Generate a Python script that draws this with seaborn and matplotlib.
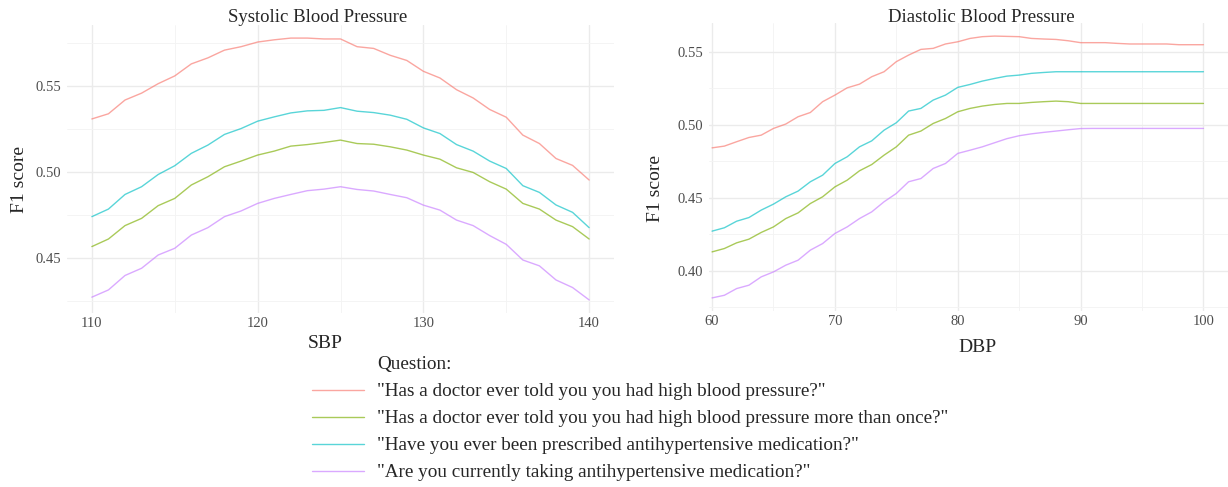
import numpy as np
import pandas as pd
import seaborn as sns
import matplotlib
matplotlib.use("Agg")
import matplotlib.pyplot as plt

# Questions (legend entries), in the order shown
questions = [
    '"Has a doctor ever told you you had high blood pressure?"',
    '"Has a doctor ever told you you had high blood pressure more than once?"',
    '"Have you ever been prescribed antihypertensive medication?"',
    '"Are you currently taking antihypertensive medication?"',
]
colors = ["#F8766D", "#7CAE00", "#00BFC4", "#C77CFF"]

# Systolic threshold (x) and F1 scores per question
sbp = list(range(110, 141))
sbp_q1 = [0.531, 0.534, 0.542, 0.546, 0.5515, 0.556, 0.563, 0.5665, 0.571, 0.573, 0.5757,
          0.577, 0.578, 0.578, 0.5775, 0.5775, 0.573, 0.572, 0.568, 0.565, 0.5587,
          0.5548, 0.548, 0.5432, 0.5365, 0.532, 0.5216, 0.5167, 0.508, 0.504, 0.4955]
sbp_q2 = [0.4568, 0.4612, 0.469, 0.4732, 0.4806, 0.4848, 0.4926, 0.4974, 0.5032, 0.5065, 0.51,
          0.5123, 0.5152, 0.5161, 0.5173, 0.5187, 0.5167, 0.5163, 0.5148, 0.5129, 0.51,
          0.5076, 0.5026, 0.4999, 0.4945, 0.4902, 0.4819, 0.4786, 0.4722, 0.4684, 0.4612]
sbp_q3 = [0.4742, 0.4786, 0.4871, 0.4916, 0.4987, 0.5038, 0.511, 0.5158, 0.522, 0.5254, 0.5297,
          0.5322, 0.5345, 0.5357, 0.536, 0.5376, 0.5355, 0.5347, 0.5332, 0.5308, 0.5258,
          0.5225, 0.5161, 0.5123, 0.5065, 0.5022, 0.4922, 0.4883, 0.481, 0.4767, 0.4678]
sbp_q4 = [0.4274, 0.4316, 0.44, 0.4442, 0.4519, 0.4558, 0.4635, 0.4678, 0.4742, 0.4775, 0.4819,
          0.4848, 0.4871, 0.4893, 0.4902, 0.4916, 0.49, 0.4891, 0.4871, 0.4852, 0.4809,
          0.478, 0.4722, 0.469, 0.4632, 0.4581, 0.449, 0.4456, 0.4374, 0.433, 0.4258]

# Diastolic threshold (x) and F1 scores per question
dbp = list(range(60, 101))
dbp_q1 = [0.4842, 0.4854, 0.4884, 0.4913, 0.4929, 0.4975, 0.5005, 0.5055, 0.5084, 0.5158,
          0.5203, 0.5253, 0.5278, 0.5329, 0.5363, 0.5432, 0.5477, 0.5516, 0.5523, 0.5553,
          0.5568, 0.5591, 0.5603, 0.5607, 0.5605, 0.5603, 0.5591, 0.5587, 0.5584, 0.5575,
          0.5562, 0.5562, 0.5562, 0.5557, 0.5553, 0.5553, 0.5553, 0.5553, 0.5548, 0.5548, 0.5548]
dbp_q2 = [0.413, 0.4153, 0.4192, 0.4217, 0.4263, 0.4301, 0.4358, 0.4397, 0.4461, 0.4507,
          0.4575, 0.4621, 0.4685, 0.4728, 0.4792, 0.4849, 0.4929, 0.4957, 0.5009, 0.5043,
          0.5089, 0.5112, 0.5128, 0.5139, 0.5146, 0.5146, 0.5153, 0.5158, 0.5162, 0.5158,
          0.5146, 0.5146, 0.5146, 0.5146, 0.5146, 0.5146, 0.5146, 0.5146, 0.5146, 0.5146, 0.5146]
dbp_q3 = [0.4272, 0.4295, 0.434, 0.4365, 0.4416, 0.4457, 0.4507, 0.4546, 0.461, 0.4655,
          0.4735, 0.4781, 0.4849, 0.489, 0.4963, 0.5014, 0.5094, 0.5112, 0.5169, 0.5203,
          0.5256, 0.5276, 0.5299, 0.5317, 0.5333, 0.534, 0.5352, 0.5358, 0.5363, 0.5363,
          0.5363, 0.5363, 0.5363, 0.5363, 0.5363, 0.5363, 0.5363, 0.5363, 0.5363, 0.5363, 0.5363]
dbp_q4 = [0.3815, 0.3833, 0.3879, 0.3902, 0.3959, 0.3993, 0.4039, 0.4073, 0.4142, 0.4187,
          0.4256, 0.4301, 0.4358, 0.4404, 0.4473, 0.453, 0.461, 0.4632, 0.4701, 0.4735,
          0.4804, 0.4826, 0.4849, 0.4877, 0.4905, 0.4925, 0.4938, 0.4948, 0.4957, 0.4966,
          0.4974, 0.4975, 0.4975, 0.4975, 0.4975, 0.4975, 0.4975, 0.4975, 0.4975, 0.4975, 0.4975]


def long_df(x, series):
    frames = [pd.DataFrame({"x": x, "F1": s, "Question": q}) for q, s in zip(questions, series)]
    return pd.concat(frames, ignore_index=True)


sbp_df = long_df(sbp, [sbp_q1, sbp_q2, sbp_q3, sbp_q4])
dbp_df = long_df(dbp, [dbp_q1, dbp_q2, dbp_q3, dbp_q4])

sns.set_style("white")
plt.rcParams["font.family"] = ["Liberation Serif", "DejaVu Serif"]

W, H = 1228, 487
fig = plt.figure(figsize=(W / 100, H / 100), dpi=100)


def px_axes(x0, x1, y0, y1):
    return fig.add_axes([x0 / W, 1 - y1 / H, (x1 - x0) / W, (y1 - y0) / H])


def style_panel(ax, xmaj, xmin, ymaj, ymin, ylim, xlim):
    ax.set_xlim(*xlim)
    ax.set_ylim(*ylim)
    ax.set_xticks(xmaj)
    ax.set_xticks(xmin, minor=True)
    ax.set_yticks(ymaj)
    ax.set_yticks(ymin, minor=True)
    ax.set_yticklabels([f"{v:.2f}" for v in ymaj])
    ax.grid(which="major", color="#EBEBEB", lw=1.0)
    ax.grid(which="minor", color="#F3F3F3", lw=0.6)
    ax.set_axisbelow(True)
    for s in ax.spines.values():
        s.set_visible(False)
    ax.tick_params(which="both", length=0, labelsize=10.5, labelcolor="#4D4D4D")
    ax.tick_params(axis="x", pad=3)
    ax.tick_params(axis="y", pad=4)
    ax.set_xlabel("")
    ax.set_ylabel("")


def padded(values):
    lo, hi = min(values), max(values)
    d = (hi - lo) * 0.05
    return lo - d, hi + d


ax1 = px_axes(67, 614, 25, 313)
sns.lineplot(data=sbp_df, x="x", y="F1", hue="Question", hue_order=questions,
             palette=colors, alpha=0.65, lw=1.0, ax=ax1, legend=True)
style_panel(ax1, [110, 120, 130, 140], [115, 125, 135],
            [0.45, 0.50, 0.55], [0.425, 0.475, 0.525, 0.575],
            padded(sbp_q1 + sbp_q2 + sbp_q3 + sbp_q4), padded(sbp))

ax2 = px_axes(709, 1228, 23, 311)
sns.lineplot(data=dbp_df, x="x", y="F1", hue="Question", hue_order=questions,
             palette=colors, alpha=0.65, lw=1.0, ax=ax2, legend=False)
style_panel(ax2, [60, 70, 80, 90, 100], [65, 75, 85, 95],
            [0.40, 0.45, 0.50, 0.55], [0.375, 0.425, 0.475, 0.525],
            padded(dbp_q1 + dbp_q2 + dbp_q3 + dbp_q4), (59.75, 102))

# titles and axis labels
fig.text(318 / W, 1 - 17 / H, "Systolic Blood Pressure", ha="center", va="center", fontsize=13.5)
fig.text(981 / W, 1 - 17 / H, "Diastolic Blood Pressure", ha="center", va="center", fontsize=13.5)
fig.text(20 / W, 1 - 180 / H, "F1 score", rotation=90, ha="center", va="center", fontsize=14)
fig.text(655 / W, 1 - 189 / H, "F1 score", rotation=90, ha="center", va="center", fontsize=14)
fig.text(325 / W, 1 - 343 / H, "SBP", ha="center", va="center", fontsize=14)
fig.text(977 / W, 1 - 347 / H, "DBP", ha="center", va="center", fontsize=14)

# legend under the panels
handles, labels = ax1.get_legend_handles_labels()
ax1.get_legend().remove()
fig.text(377 / W, 1 - 364 / H, "Question:", ha="left", va="center", fontsize=13.8)
fig.legend(handles, labels, loc="upper left", bbox_to_anchor=(312 / W, 1 - 383 / H),
           frameon=False, fontsize=13.8, handlelength=2.7, handletextpad=0.68,
           labelspacing=0.5, borderpad=0, borderaxespad=0)

fig.savefig("out.png", dpi=100)
plt.close()
